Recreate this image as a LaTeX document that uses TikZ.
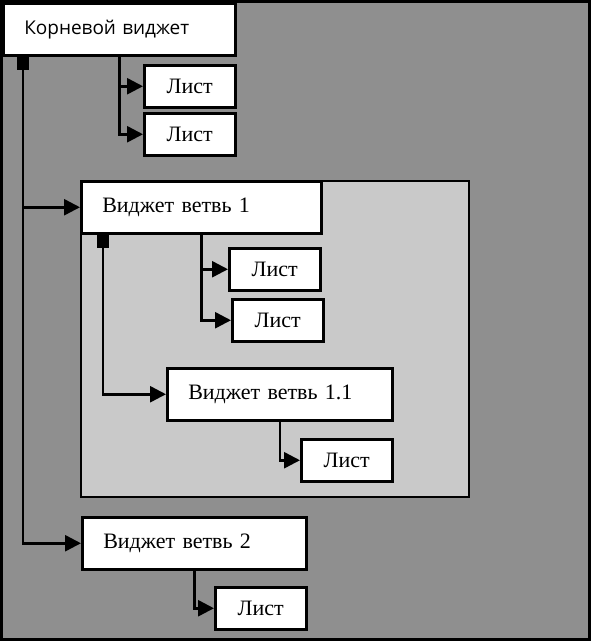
\documentclass[tikz,border=0pt]{standalone}
\usepackage{fontspec}
\setmainfont{Liberation Serif}
\newfontfamily\rootfont{Open Sans}
\usetikzlibrary{arrows.meta}
\definecolor{darkbg}{HTML}{8F8F8F}
\definecolor{lightbg}{HTML}{C9C9C9}

\begin{document}
\begin{tikzpicture}[x=1pt, y=-1pt,
    box/.style={draw, rectangle, line width=2.5pt, fill=white, anchor=north west,
      minimum height=52pt, inner xsep=21pt, align=left,
      font=\fontsize{22}{24}\selectfont},
    leaf/.style={box, minimum width=91pt, minimum height=42pt},
    link/.style={line width=2.5pt, -{Triangle[length=16pt, width=16pt]}},
    start/.style={link, {Square[length=13pt, width=12pt]}-{Triangle[length=16pt, width=16pt]}}]
            \useasboundingbox (0,0) rectangle (591,641);
            \draw[line width=3pt, fill=darkbg] (1.5,1.5) rectangle (589.5,639.5);
            \draw[line width=2.5pt, fill=lightbg] (81,181) rectangle (469,497);

            \node[box, minimum width=232pt, text width=190pt, font=\rootfont\fontsize{19}{22}\selectfont] (root) at (2,2) {Корневой виджет};
            \node[leaf] (rl1) at (143,64) {Лист};
            \node[leaf] (rl2) at (143,112) {Лист};

            \node[box, minimum width=240pt, text width=198pt] (b1) at (80,180) {Виджет ветвь 1};
            \node[leaf] (bl1) at (228,247) {Лист};
            \node[leaf] (bl2) at (231,298) {Лист};

            \node[box, minimum width=225pt, text width=183pt] (b11) at (166,367) {Виджет ветвь 1.1};
            \node[leaf] (b11l) at (300,438) {Лист};

            \node[box, minimum width=224pt, text width=182pt] (b2) at (81,516) {Виджет ветвь 2};
            \node[leaf] (b2l) at (214,586) {Лист};

            \draw[link] (root.south) |- (rl1.west);
            \draw[link] (root.south) |- (rl2.west);
            \draw[start] ([xshift=21pt]root.south west) |- (b1.west);
            \draw[start] ([xshift=21pt]root.south west) |- (b2.west);

            \draw[link] (b1.south) |- (bl1.west);
            \draw[link] (b1.south) |- (bl2.west);
            \draw[start] ([xshift=23pt]b1.south west) |- (b11.west);

            \draw[link] (b11.south) |- (b11l.west);
            \draw[link] (b2.south) |- (b2l.west);
        \end{tikzpicture}
\end{document}
